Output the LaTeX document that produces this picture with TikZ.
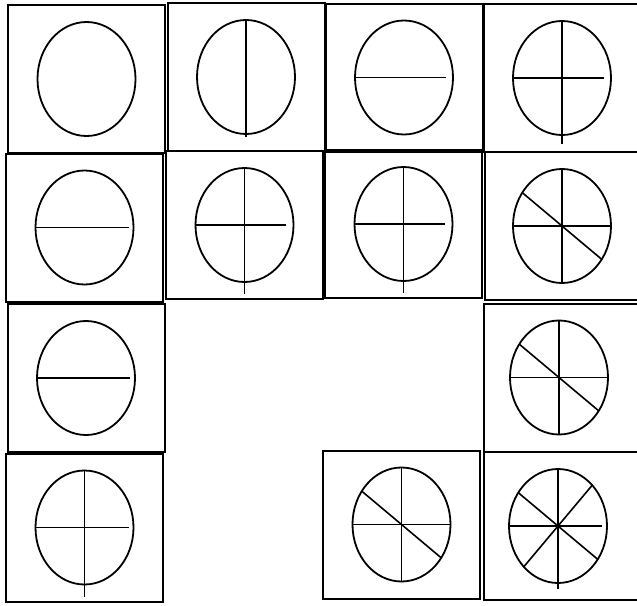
\documentclass[tikz,border=0pt]{standalone}
\usetikzlibrary{shapes.geometric}

\begin{document}
\begin{tikzpicture}[x=1pt, y=-1pt,
  cell/.style={draw, line width=2pt, minimum width=157pt, minimum height=148pt, inner sep=0pt},
  edgecell/.style={cell, minimum width=164pt},
  ring/.style={draw, ellipse, line width=1.8pt, minimum width=98pt, minimum height=114pt, inner sep=0pt, outer sep=0pt},
  spoke/.style={line width=1.6pt}]
  \useasboundingbox (0,0) rectangle (637,605);
  \fill[white] (0,0) rectangle (637,605);
  % Row 1
  \node[cell] (c11) at (86.5,79) {};
  \node[cell] (c12) at (246,77) {};
  \node[cell] (c13) at (404,77.5) {};
  \node[edgecell] (c14) at (566,78) {};
  % Row 2
  \node[cell] (c21) at (84.5,227.5) {};
  \node[cell] (c22) at (244.5,225) {};
  \node[cell] (c23) at (403.5,224) {};
  \node[edgecell] (c24) at (567,226) {};
  % Row 3
  \node[cell] (c31) at (86,378) {};
  \node[edgecell] (c34) at (566,377.5) {};
  % Row 4
  \node[cell] (c41) at (84.5,527.5) {};
  \node[cell] (c43) at (401.5,524.5) {};
  \node[edgecell] (c44) at (566,526) {};
  % Circles
  \node[ring] (r11) at (c11.center) {};
  \node[ring] (r12) at (c12.center) {};
  \node[ring] (r13) at (c13.center) {};
  \node[ring] (r14) at (562,78) {};
  \node[ring] (r21) at (c21.center) {};
  \node[ring] (r22) at (c22.center) {};
  \node[ring] (r23) at (c23.center) {};
  \node[ring] (r24) at (562,226) {};
  \node[ring] (r31) at (c31.center) {};
  \node[ring] (r34) at (559,377.5) {};
  \node[ring] (r41) at (c41.center) {};
  \node[ring] (r43) at (c43.center) {};
  \node[ring] (r44) at (558,526) {};
  % Row 1 spokes
  \draw[spoke] (r12.north) -- ([yshift=-3pt]r12.south);
  \draw[spoke] (r13.west) -- ([xshift=-7pt]r13.east);
  \draw[spoke] (r14.north) -- ([yshift=-9pt]r14.south);
  \draw[spoke] (r14.west) -- ([xshift=-7pt]r14.east);
  % Row 2 spokes
  \draw[spoke] (r21.west) -- ([xshift=-5pt]r21.east);
  \draw[spoke] (r22.north) -- ([yshift=-12pt]r22.south);
  \draw[spoke] (r22.west) -- ([xshift=-8pt]r22.east);
  \draw[spoke] (r23.north) -- ([yshift=-12pt]r23.south);
  \draw[spoke] (r23.west) -- ([xshift=-8pt]r23.east);
  \draw[spoke] (r24.north) -- (r24.south);
  \draw[spoke] (r24.west) -- (r24.east);
  \draw[spoke] (r24.140) -- (r24.-40);
  % Row 3 spokes
  \draw[spoke] (r31.west) -- ([xshift=-5pt]r31.east);
  \draw[spoke] (r34.north) -- (r34.south);
  \draw[spoke] (r34.west) -- (r34.east);
  \draw[spoke] (r34.140) -- (r34.-40);
  % Row 4 spokes
  \draw[spoke] (r41.north) -- ([yshift=-12pt]r41.south);
  \draw[spoke] (r41.west) -- ([xshift=-5pt]r41.east);
  \draw[spoke] (r43.north) -- (r43.south);
  \draw[spoke] (r43.west) -- (r43.east);
  \draw[spoke] (r43.140) -- (r43.-40);
  \draw[spoke] (r44.north) -- ([yshift=-6pt]r44.south);
  \draw[spoke] (r44.west) -- ([xshift=-5pt]r44.east);
  \draw[spoke] (r44.140) -- (r44.-40);
  \draw[spoke] (r44.-130) -- (r44.50);
\end{tikzpicture}
\end{document}
